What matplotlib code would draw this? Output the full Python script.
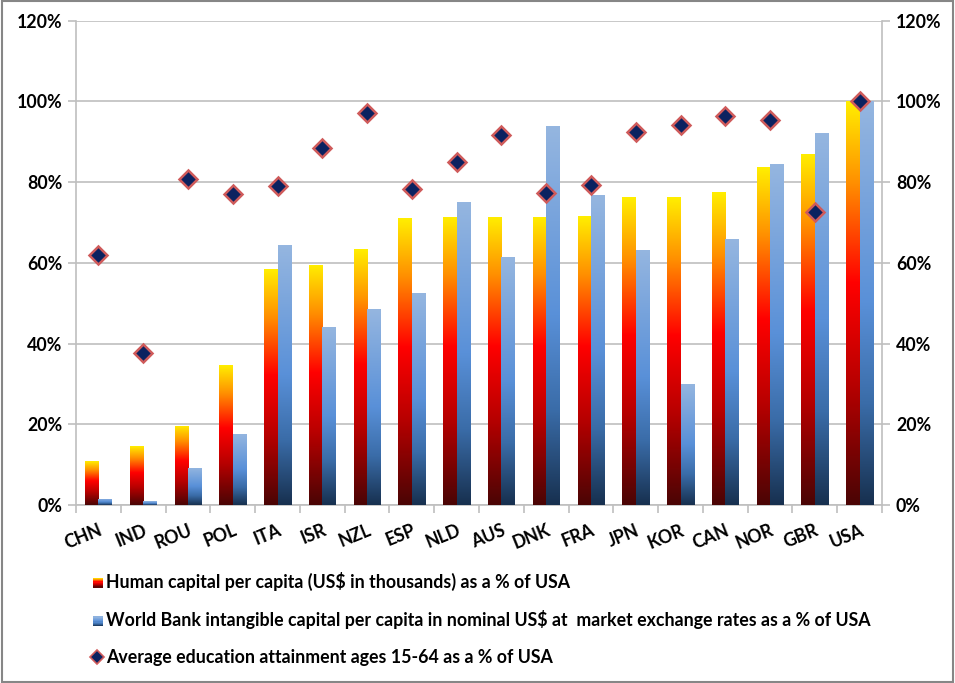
import numpy as np
import matplotlib
matplotlib.use('Agg')
import matplotlib.pyplot as plt
from matplotlib.colors import LinearSegmentedColormap
from matplotlib.patches import Rectangle
from matplotlib.lines import Line2D
from matplotlib.legend_handler import HandlerBase

countries = ['CHN', 'IND', 'ROU', 'POL', 'ITA', 'ISR', 'NZL', 'ESP', 'NLD',
             'AUS', 'DNK', 'FRA', 'JPN', 'KOR', 'CAN', 'NOR', 'GBR', 'USA']
human_capital = [10.9, 14.6, 19.6, 34.6, 58.4, 59.5, 63.4, 71.0, 71.4,
                 71.4, 71.4, 71.5, 76.3, 76.3, 77.5, 83.7, 87.0, 100.0]
intangible = [1.5, 0.9, 9.2, 17.6, 64.4, 44.1, 48.5, 52.5, 75.0,
              61.5, 93.9, 76.7, 63.3, 30.0, 65.8, 84.4, 92.1, 100.0]
education = [61.9, 37.7, 80.7, 77.0, 79.0, 88.4, 97.1, 78.2, 85.1,
             91.8, 77.3, 79.2, 92.3, 94.2, 96.3, 95.3, 72.5, 100.0]
yticks = [0, 20, 40, 60, 80, 100, 120]

labels = ['Human capital per capita (US$ in thousands) as a % of USA',
          'World Bank intangible capital per capita in nominal US$ at  market exchange rates as a % of USA',
          'Average education attainment ages 15-64 as a % of USA']

plt.rcParams['font.family'] = ['Lato', 'DejaVu Sans']
plt.rcParams['font.weight'] = 'bold'

fire = LinearSegmentedColormap.from_list(
    'fire', [(0, '#4a0505'), (0.3, '#b80000'), (0.55, '#ff0000'),
             (0.8, '#ff9000'), (1, '#ffee00')])
sky = LinearSegmentedColormap.from_list(
    'sky', [(0, '#17304f'), (0.25, '#3a6ca8'), (0.5, '#5990d8'),
            (1, '#95b6e0')])

fig = plt.figure(figsize=(9.55, 6.83), dpi=100)
ax = fig.add_axes([0.0796, 0.2606, 0.8440, 0.7091])

x = np.arange(len(countries))
w = 0.3
grad = np.linspace(0, 1, 256).reshape(-1, 1)


def gradient_bars(bars, cmap):
    for b in bars:
        x0, y0 = b.get_x(), b.get_y()
        x1, y1 = x0 + b.get_width(), y0 + b.get_height()
        im = ax.imshow(grad, extent=[x0, x1, y0, y1], origin='lower',
                       aspect='auto', cmap=cmap, zorder=3)
        im.set_clip_path(b)


b1 = ax.bar(x - w / 2, human_capital, w, color='none', zorder=3)
b2 = ax.bar(x + w / 2, intangible, w, color='none', zorder=3)
gradient_bars(b1, fire)
gradient_bars(b2, sky)

ax.plot(x, education, ls='none', marker='D', ms=9.5, mfc='#0b2260',
        mec='#cf5b5b', mew=1.8, zorder=5)

ax.set_xlim(-0.5, len(countries) - 0.5)
ax.set_ylim(0, 120)
ax.set_yticks(yticks)
ax.set_yticklabels([f'{v}%' for v in yticks], fontsize=12.8, fontweight='bold')
ax.yaxis.grid(True, color='#bfbfbf', lw=1.2, zorder=0)
ax.set_axisbelow(True)

ax.set_xticks(x)
ax.set_xticklabels(countries, rotation=22, ha='right', va='top',
                   rotation_mode='anchor', fontsize=12.8, fontweight='bold')
ax.tick_params(axis='x', which='major', length=0, pad=12)
ax.set_xticks(np.arange(-0.5, len(countries)), minor=True)
ax.tick_params(axis='x', which='minor', length=6, color='#bfbfbf', width=1.2)
ax.tick_params(axis='y', length=6, color='#bfbfbf', width=1.2, pad=4)

for s in ['left', 'right', 'bottom']:
    ax.spines[s].set_color('#bfbfbf')
    ax.spines[s].set_linewidth(1.2)
ax.spines['top'].set_visible(False)

ax2 = ax.twinx()
ax2.set_ylim(0, 120)
ax2.set_yticks(yticks)
ax2.set_yticklabels([f'{v}%' for v in yticks], fontsize=12.8, fontweight='bold')
ax2.tick_params(axis='y', length=6, color='#bfbfbf', width=1.2, pad=4)
for s in ax2.spines.values():
    s.set_visible(False)


class GradientHandler(HandlerBase):
    def __init__(self, cmap):
        super().__init__()
        self.cmap = cmap

    def create_artists(self, legend, orig_handle, xdescent, ydescent,
                       width, height, fontsize, trans):
        size = height * 0.8
        x0 = width - size
        n = 8
        arts = []
        for i in range(n):
            r = Rectangle((x0, -ydescent + size * i / n), size, size / n,
                          facecolor=self.cmap((i + 0.5) / n), edgecolor='none',
                          transform=trans)
            arts.append(r)
        return arts


h1 = Rectangle((0, 0), 1, 1)
h2 = Rectangle((0, 0), 1, 1)
h3 = Line2D([], [], ls='none', marker='D', ms=7.5, mfc='#0b2260',
            mec='#cf5b5b', mew=1.2)
fig.legend([h1, h2, h3], labels, loc='upper left',
           bbox_to_anchor=(0.086, 0.176), frameon=False,
           prop={'size': 12.8, 'weight': 'bold'}, labelspacing=1.1,
           handlelength=0.65, handletextpad=0.2, borderpad=0,
           handler_map={h1: GradientHandler(fire), h2: GradientHandler(sky)})

fig.patches.append(Rectangle((0.002, 0.002), 0.996, 0.996,
                             transform=fig.transFigure, fill=False,
                             edgecolor='#868686', lw=1.5))

fig.savefig('out.png', dpi=100)
